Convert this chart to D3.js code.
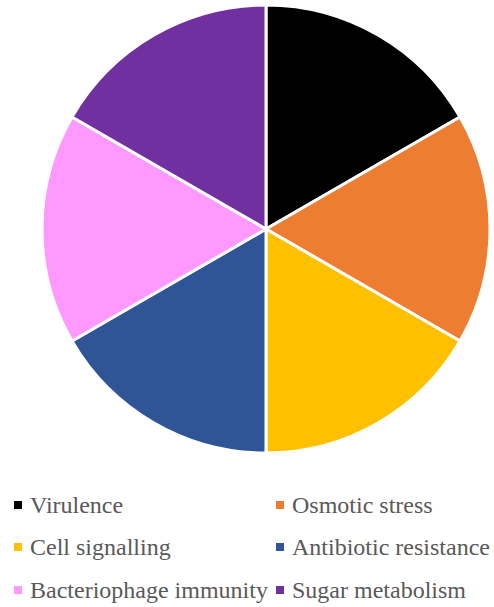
<!DOCTYPE html>
<html>
<head>
<meta charset="utf-8">
<script src="https://cdn.jsdelivr.net/npm/d3@7"></script>
<style>
  html, body { margin: 0; padding: 0; background: #fff; }
  svg { display: block; }
  .legend-label { font-family: 'Liberation Serif', 'Times New Roman', Times, 'DejaVu Serif', serif; }
</style>
</head>
<body>
<div id="chart"></div>
<script>
const categories = ['Virulence', 'Osmotic stress', 'Cell signalling', 'Antibiotic resistance', 'Bacteriophage immunity', 'Sugar metabolism'];
const values = [1, 1, 1, 1, 1, 1];
const colors = ['#000000', '#ED7D31', '#FFC000', '#2F5597', '#FF99FF', '#7030A0'];

const width = 494;
const height = 607;
const cx = 266;
const cy = 229;
const radius = 224;

const svg = d3.select('#chart').append('svg')
  .attr('width', width)
  .attr('height', height);

const pie = d3.pie().sort(null).value(d => d.value);
const arc = d3.arc().innerRadius(0).outerRadius(radius);
const data = categories.map((c, i) => ({ name: c, value: values[i], color: colors[i] }));

svg.append('g')
  .attr('transform', `translate(${cx},${cy})`)
  .selectAll('path')
  .data(pie(data))
  .join('path')
  .attr('d', arc)
  .attr('fill', d => d.data.color)
  .attr('stroke', '#fff')
  .attr('stroke-width', 3)
  .attr('stroke-linejoin', 'round');

// legend, two columns
const colX = [14, 276];
const rowY = [505, 547, 590];
const legend = svg.append('g')
  .selectAll('g')
  .data(data)
  .join('g')
  .attr('transform', (d, i) => `translate(${colX[i % 2]},${rowY[Math.floor(i / 2)]})`);

legend.append('rect')
  .attr('x', 0)
  .attr('y', -4)
  .attr('width', 8)
  .attr('height', 8)
  .attr('fill', d => d.color);

legend.append('text')
  .attr('class', 'legend-label')
  .attr('x', 16)
  .attr('y', 8)
  .style('font-size', '24px')
  .attr('fill', '#595959')
  .text(d => d.name);
</script>
</body>
</html>
